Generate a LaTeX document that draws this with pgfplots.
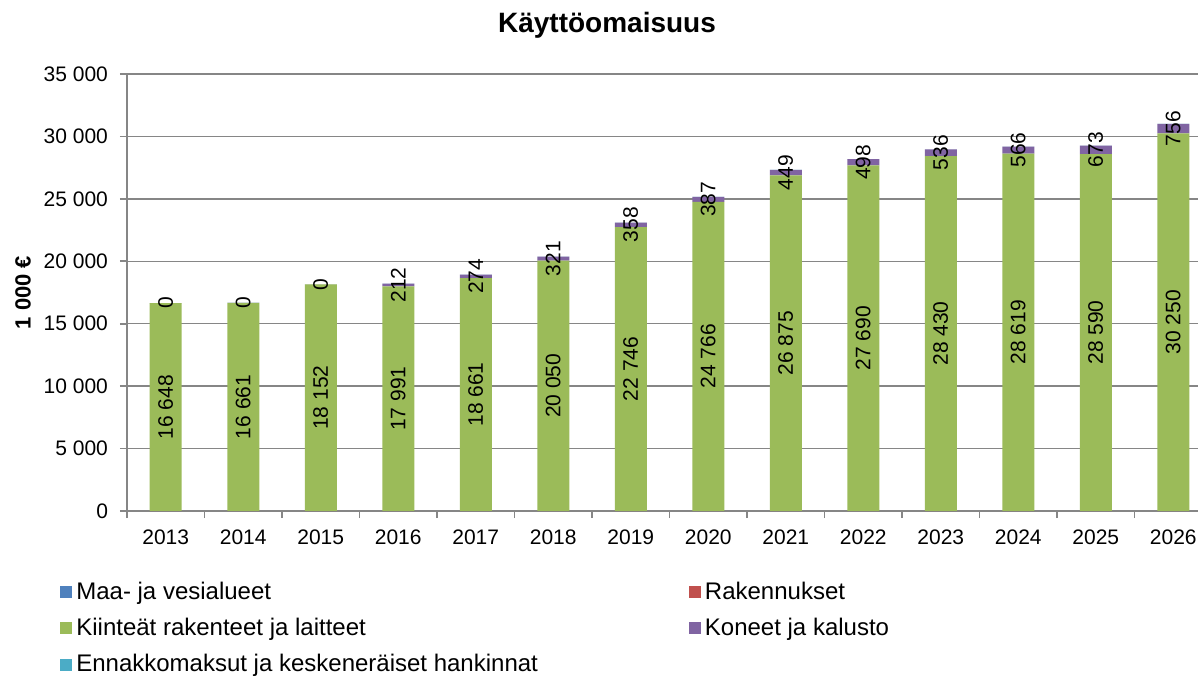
\documentclass[border=0pt]{standalone}
\usepackage{fontspec}
\setmainfont{Liberation Sans}
\usepackage{pgfplots}
\pgfplotsset{compat=1.18}
\definecolor{maa}{HTML}{4F81BD}
\definecolor{rak}{HTML}{C0504D}
\definecolor{kiint}{HTML}{9BBB59}
\definecolor{kone}{HTML}{8064A2}
\definecolor{ennak}{HTML}{4BACC6}
\definecolor{gridgray}{HTML}{868686}

\begin{document}
\begin{tikzpicture}
\begin{axis}[
  name=ax,
  scale only axis, width=542.5pt, height=218.5pt,
  ybar stacked, bar width=16pt,
  stacked ignores zero=false,
  xmin=-0.5, xmax=13.5, ymin=0, ymax=35000,
  ytick={0,5000,10000,15000,20000,25000,30000,35000},
  scaled y ticks=false,
  xtick={-0.5,0.5,1.5,2.5,3.5,4.5,5.5,6.5,7.5,8.5,9.5,10.5,11.5,12.5,13.5},
  x tick label as interval,
  xticklabels={2013,2014,2015,2016,2017,2018,2019,2020,2021,2022,2023,2024,2025,2026},
  x tick label style={yshift=-2.5pt},
  y tick label style={xshift=-2.5pt},
  axis x line*=bottom, axis y line*=left,
  axis line style={gridgray, line width=0.8pt},
  tick style={gridgray, line width=0.8pt}, tick align=outside,
  major tick length=3.5pt,
  ymajorgrids, grid style={gridgray, line width=0.7pt},
  /pgf/number format/assume math mode=true,
  /pgf/number format/1000 sep={\ },
  tick label style={font=\fontsize{10.5}{12}\selectfont},
  ylabel={\textbf{1 000 €}},
  ylabel style={font=\fontsize{11}{13}\selectfont, at={(axis description cs:-0.0958,0.5)}, anchor=center},
  title={\textbf{Käyttöomaisuus}},
  title style={font=\fontsize{14}{16}\selectfont, at={(axis description cs:0.4424,1.085)}, anchor=center},
  point meta=rawy,
  every node near coord/.append style={font=\fontsize{10.5}{12}\selectfont,
    rotate=90, anchor=center, inner sep=0pt},
  legend columns=2,
  legend cell align=left,
  legend style={at={(axis description cs:-0.0618,-0.152)}, anchor=north west, draw=none, fill=none,
    font=\fontsize{12}{14}\selectfont, row sep=4pt, inner sep=0pt,
    /tikz/column 2/.style={column sep=73.5pt}},
  legend image code/.code={\fill[#1] (0pt,-3pt) rectangle (6pt,3pt);},
]
\addplot[fill=maa, draw=none] coordinates {(0,0) (1,0) (2,0) (3,0) (4,0) (5,0) (6,0) (7,0) (8,0) (9,0) (10,0) (11,0) (12,0) (13,0)};
\addplot[fill=rak, draw=none] coordinates {(0,0) (1,0) (2,0) (3,0) (4,0) (5,0) (6,0) (7,0) (8,0) (9,0) (10,0) (11,0) (12,0) (13,0)};
\addplot[fill=kiint, draw=none, nodes near coords={\pgfmathprintnumber{\pgfplotspointmeta}}]
  coordinates {(0,16648) (1,16661) (2,18152) (3,17991) (4,18661) (5,20050) (6,22746) (7,24766) (8,26875) (9,27690) (10,28430) (11,28619) (12,28590) (13,30250)};
\addplot[fill=kone, draw=none, nodes near coords={\pgfmathprintnumber{\pgfplotspointmeta}}]
  coordinates {(0,0) (1,0) (2,0) (3,212) (4,274) (5,321) (6,358) (7,387) (8,449) (9,498) (10,536) (11,566) (12,673) (13,756)};
\addplot[fill=ennak, draw=none] coordinates {(0,0) (1,0) (2,0) (3,0) (4,0) (5,0) (6,0) (7,0) (8,0) (9,0) (10,0) (11,0) (12,0) (13,0)};
\legend{Maa- ja vesialueet, Rakennukset, Kiinteät rakenteet ja laitteet, Koneet ja kalusto, Ennakkomaksut ja keskeneräiset hankinnat}
\end{axis}
\pgfresetboundingbox
\useasboundingbox ([shift={(-63.5pt,-82pt)}]ax.south west) rectangle ([shift={(535.5pt,37pt)}]ax.north west);
\end{tikzpicture}
\end{document}
